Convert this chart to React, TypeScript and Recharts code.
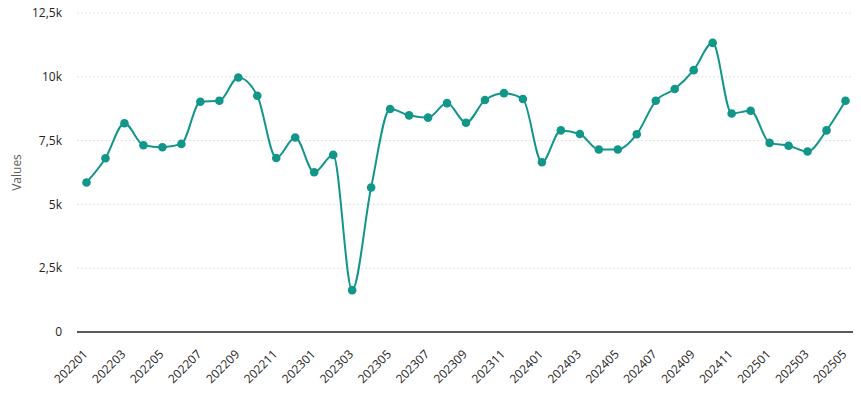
import React from "react";
import { LineChart, Line, XAxis, YAxis, CartesianGrid } from "recharts";

const months = [
  "202201","202202","202203","202204","202205","202206","202207","202208","202209","202210","202211","202212",
  "202301","202302","202303","202304","202305","202306","202307","202308","202309","202310","202311","202312",
  "202401","202402","202403","202404","202405","202406","202407","202408","202409","202410","202411","202412",
  "202501","202502","202503","202504","202505",
];

const values = [
  5860, 6810, 8180, 7320, 7240, 7370, 9020, 9060, 9970, 9260, 6820, 7620,
  6260, 6940, 1640, 5660, 8740, 8490, 8400, 8970, 8200, 9090, 9360, 9130,
  6650, 7900, 7760, 7150, 7150, 7750, 9060, 9520, 10260, 11330, 8560, 8670,
  7410, 7300, 7070, 7900, 9060,
];

const yTicks = [0, 2500, 5000, 7500, 10000, 12500];

const data = months.map((m, i) => ({ month: m, value: values[i] }));

const COLOR = "#12968A";
const FONT = "'Open Sans', 'Noto Sans', sans-serif";

const fmtY = (v: number) => {
  if (v === 0) return "0";
  return String(v / 1000).replace(".", ",") + "k";
};

const XTick = (props: any) => {
  const { x, y, payload } = props;
  return (
    <g transform={`translate(${x - 1},${y + 12})`}>
      <text
        x={0}
        y={0}
        dy="0.35em"
        textAnchor="end"
        transform="rotate(-45)"
        fill="#252423"
        fontSize={12}
        fontFamily={FONT}
      >
        {payload.value}
      </text>
    </g>
  );
};

export default function App() {
  return (
    <div style={{ marginLeft: -8, marginTop: -8, width: 861, height: 397, background: "#fff" }}>
      <LineChart width={861} height={397} data={data} margin={{ top: 13, right: 6, bottom: 0, left: 0 }}>
        <CartesianGrid vertical={false} stroke="#e1e1e1" strokeDasharray="2 2" />
        <XAxis
          dataKey="month"
          interval={1}
          height={65}
          padding={{ left: 9.5, right: 9.5 }}
          tickLine={false}
          tick={<XTick />}
          axisLine={{ stroke: "#252423", strokeWidth: 1.5 }}
        />
        <YAxis
          width={77}
          domain={[0, 12500]}
          ticks={yTicks}
          tickFormatter={fmtY}
          axisLine={false}
          tickLine={false}
          tickSize={0}
          tickMargin={15}
          tick={{ fill: "#252423", fontSize: 12, fontFamily: FONT }}
          label={{
            value: "Values",
            angle: -90,
            position: "insideLeft",
            offset: 17,
            style: { fill: "#605E5C", fontSize: 12, fontFamily: FONT, textAnchor: "middle" },
          }}
        />
        <Line
          type="monotone"
          dataKey="value"
          stroke={COLOR}
          strokeWidth={2}
          dot={{ r: 4.3, fill: COLOR, stroke: "none", strokeWidth: 0 }}
          activeDot={false}
          isAnimationActive={false}
        />
      </LineChart>
    </div>
  );
}
